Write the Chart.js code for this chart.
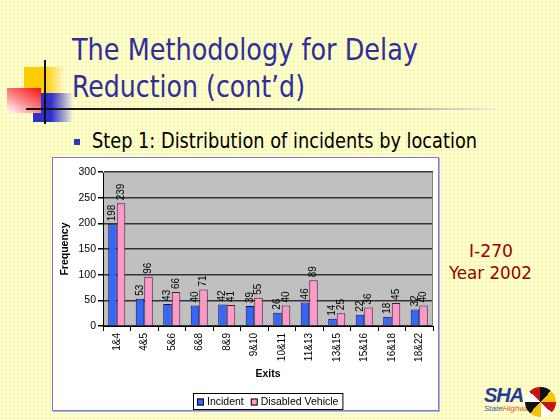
<!DOCTYPE html>
<html><head><meta charset="utf-8">
<script src="https://cdn.jsdelivr.net/npm/chart.js@4.4.1/dist/chart.umd.min.js"></script>
<style>
html,body{margin:0;padding:0}
body{width:560px;height:420px;position:relative;overflow:hidden;background-color:#ffffc8;
background-image:radial-gradient(circle,#efe9b4 0.6px,transparent 0.9px);background-size:4px 4px;font-family:"DejaVu Sans",sans-serif}
.abs{position:absolute}
.t{position:absolute;white-space:nowrap;transform-origin:0 0;line-height:1}
#title1,#title2{color:#2e2e9e;font-family:"DejaVu Sans Condensed","DejaVu Sans",sans-serif;font-size:30px}
#step{color:#000;font-family:"DejaVu Sans Condensed","DejaVu Sans",sans-serif;font-size:21px}
.red{color:#9a0000;font-family:"DejaVu Sans Condensed","DejaVu Sans",sans-serif;font-size:18px}
#box{position:absolute;left:52px;top:157px;width:387px;height:254px;box-sizing:border-box;border:1px solid #7b7bd6;background:#fff;box-shadow:1px 1px 0 #b0b0e8}
#c{display:block}
</style></head><body>
<div class="abs" style="left:24px;top:67px;width:40px;height:33px;background:linear-gradient(90deg,#ffcc00 0%,#ffcc00 50%,rgba(255,240,200,0.3) 100%)"></div>
<div class="abs" style="left:33px;top:93px;width:40px;height:29px;background:linear-gradient(90deg,#2f2fcf 0%,#2f2fcf 45%,rgba(230,230,250,0.2) 100%)"></div>
<div class="abs" style="left:7px;top:88px;width:34px;height:25px;background:linear-gradient(30deg,#ffffff 0%,#ff8a8a 45%,#ee1111 100%)"></div>
<div class="abs" style="left:44px;top:60px;width:2px;height:64px;background:#111"></div>
<div class="abs" style="left:26px;top:108px;width:470px;height:2px;background:linear-gradient(90deg,#111 0%,#333 40%,#999 75%,rgba(230,230,230,0.6) 100%)"></div>

<div id="title1" class="t" data-w="346" style="left:72px;top:35px">The Methodology for Delay</div>
<div id="title2" class="t" data-w="233" style="left:72px;top:72px">Reduction (cont’d)</div>
<div class="abs" style="left:74px;top:139px;width:6px;height:6px;background:#3333bb"></div>
<div id="step" class="t" data-w="385" style="left:92px;top:131px">Step 1: Distribution of incidents by location</div>
<div class="t red" data-w="44" style="left:469px;top:242px">I-270</div>
<div class="t red" data-w="83" style="left:449px;top:264px">Year 2002</div>

<div class="t" style="left:484px;top:384px;font:italic bold 20px 'Liberation Sans',sans-serif;color:#1f3c9c;letter-spacing:-1px">SHA</div>
<div class="t" style="left:484px;top:404px;font:italic 8px 'Liberation Sans',sans-serif;color:#3355aa">State<span style="color:#dd5522">Highway</span></div>
<div class="abs" style="left:525px;top:387px;width:31px;height:30px;border-radius:50%;background:conic-gradient(#111 0 12%,#f5c400 12% 25%,#cc1111 25% 37%,#fff 37% 50%,#f5c400 50% 62%,#111 62% 75%,#fff 75% 87%,#cc1111 87% 100%)"></div>

<div id="box"><canvas id="c" width="385" height="252"></canvas></div>

<script>
document.querySelectorAll('.t[data-w]').forEach(function(el){
  var w = el.getBoundingClientRect().width;
  var target = parseFloat(el.getAttribute('data-w'));
  el.style.transform = 'scaleX(' + (target / w) + ')';
});

const categories = ['1&4','4&5','5&6','6&8','8&9','9&10','10&11','11&13','13&15','15&16','16&18','18&22'];
const incident = [198, 53, 43, 40, 42, 39, 26, 46, 14, 22, 18, 32];
const disabledVehicle = [239, 96, 66, 71, 41, 55, 40, 89, 25, 36, 45, 40];
const seriesNames = ['Incident', 'Disabled Vehicle'];
const yTicks = [0, 50, 100, 150, 200, 250, 300];

const FONT = "'Liberation Sans', Arial, sans-serif";

const plotBg = {
  id: 'plotBg',
  beforeDraw(chart) {
    const {ctx, chartArea: a} = chart;
    ctx.save();
    ctx.fillStyle = '#c0c0c0';
    ctx.fillRect(a.left, a.top, a.right - a.left, a.bottom - a.top);
    ctx.restore();
  },
  afterDraw(chart) {
    const {ctx, chartArea: a} = chart;
    ctx.save();
    ctx.strokeStyle = '#808080';
    ctx.lineWidth = 1;
    ctx.beginPath();
    ctx.moveTo(a.left, a.top + 0.5);
    ctx.lineTo(a.right - 0.5, a.top + 0.5);
    ctx.lineTo(a.right - 0.5, a.bottom);
    ctx.stroke();
    ctx.restore();
  }
};

const valueLabels = {
  id: 'valueLabels',
  afterDatasetsDraw(chart) {
    const ctx = chart.ctx;
    ctx.save();
    ctx.font = '10px ' + FONT;
    ctx.fillStyle = '#000';
    ctx.textAlign = 'left';
    ctx.textBaseline = 'middle';
    chart.data.datasets.forEach((ds, i) => {
      const meta = chart.getDatasetMeta(i);
      meta.data.forEach((el, j) => {
        ctx.save();
        ctx.translate(el.x, el.y - 3);
        ctx.rotate(-Math.PI / 2);
        ctx.fillText(String(ds.data[j]), 0, 0);
        ctx.restore();
      });
    });
    ctx.restore();
  }
};

const boxLegend = {
  id: 'boxLegend',
  afterDraw(chart) {
    const ctx = chart.ctx;
    const ds = chart.data.datasets;
    ctx.save();
    ctx.font = '10.5px ' + FONT;
    const box = 7, gap = 3, itemGap = 7, pad = 4;
    let total = pad;
    const widths = ds.map(d => ctx.measureText(d.label).width);
    ds.forEach((d, i) => { total += box + gap + widths[i] + (i < ds.length - 1 ? itemGap : 0); });
    total += pad;
    const cx = 215;
    const x0 = Math.round(cx - total / 2);
    const y0 = 235, h = 16;
    ctx.strokeStyle = '#000';
    ctx.lineWidth = 1;
    ctx.strokeRect(x0 + 0.5, y0 + 0.5, total, h);
    let x = x0 + pad;
    const cy = y0 + h / 2 + 1;
    ds.forEach((d, i) => {
      ctx.fillStyle = d.backgroundColor;
      ctx.fillRect(x, cy - box / 2, box, box);
      ctx.strokeStyle = '#000';
      ctx.strokeRect(x + 0.5, cy - box / 2 + 0.5, box - 1, box - 1);
      x += box + gap;
      ctx.fillStyle = '#000';
      ctx.textBaseline = 'middle';
      ctx.textAlign = 'left';
      ctx.fillText(d.label, x, cy);
      x += widths[i] + itemGap;
    });
    ctx.restore();
  }
};

new Chart(document.getElementById('c'), {
  type: 'bar',
  data: {
    labels: categories,
    datasets: [
      {label: seriesNames[0], data: incident, backgroundColor: '#3366ff', borderColor: '#101040', borderWidth: 1},
      {label: seriesNames[1], data: disabledVehicle, backgroundColor: '#ff99cc', borderColor: '#402030', borderWidth: 1}
    ]
  },
  options: {
    responsive: false,
    animation: false,
    devicePixelRatio: 1,
    layout: {padding: {top: 14, right: 5, bottom: 28, left: 0}},
    datasets: {bar: {categoryPercentage: 0.62, barPercentage: 1.0}},
    plugins: {legend: {display: false}, tooltip: {enabled: false}},
    scales: {
      x: {
        grid: {display: true, drawOnChartArea: false, offset: true, color: '#000', tickLength: 5},
        border: {color: '#000', width: 1},
        ticks: {font: {family: FONT, size: 10}, color: '#000', maxRotation: 90, minRotation: 90, padding: 2, autoSkip: false},
        title: {display: true, text: 'Exits', font: {family: FONT, size: 10.5, weight: 'bold'}, color: '#000', padding: {top: 0, bottom: 2}},
        afterFit(s) { s.height = 56; }
      },
      y: {
        min: 0, max: 300,
        afterBuildTicks(s) { s.ticks = yTicks.map(v => ({value: v})); },
        grid: {color: '#333', lineWidth: 1.5, tickLength: 5, tickColor: '#000', drawTicks: true},
        border: {color: '#000', width: 1},
        ticks: {font: {family: FONT, size: 10.5}, color: '#000', padding: 2},
        title: {display: true, text: 'Frequency', font: {family: FONT, size: 10.5, weight: 'bold'}, color: '#000', padding: {top: 6, bottom: 0}},
        afterFit(s) { s.width = 50; }
      }
    }
  },
  plugins: [plotBg, valueLabels, boxLegend]
});
</script>
</body></html>
